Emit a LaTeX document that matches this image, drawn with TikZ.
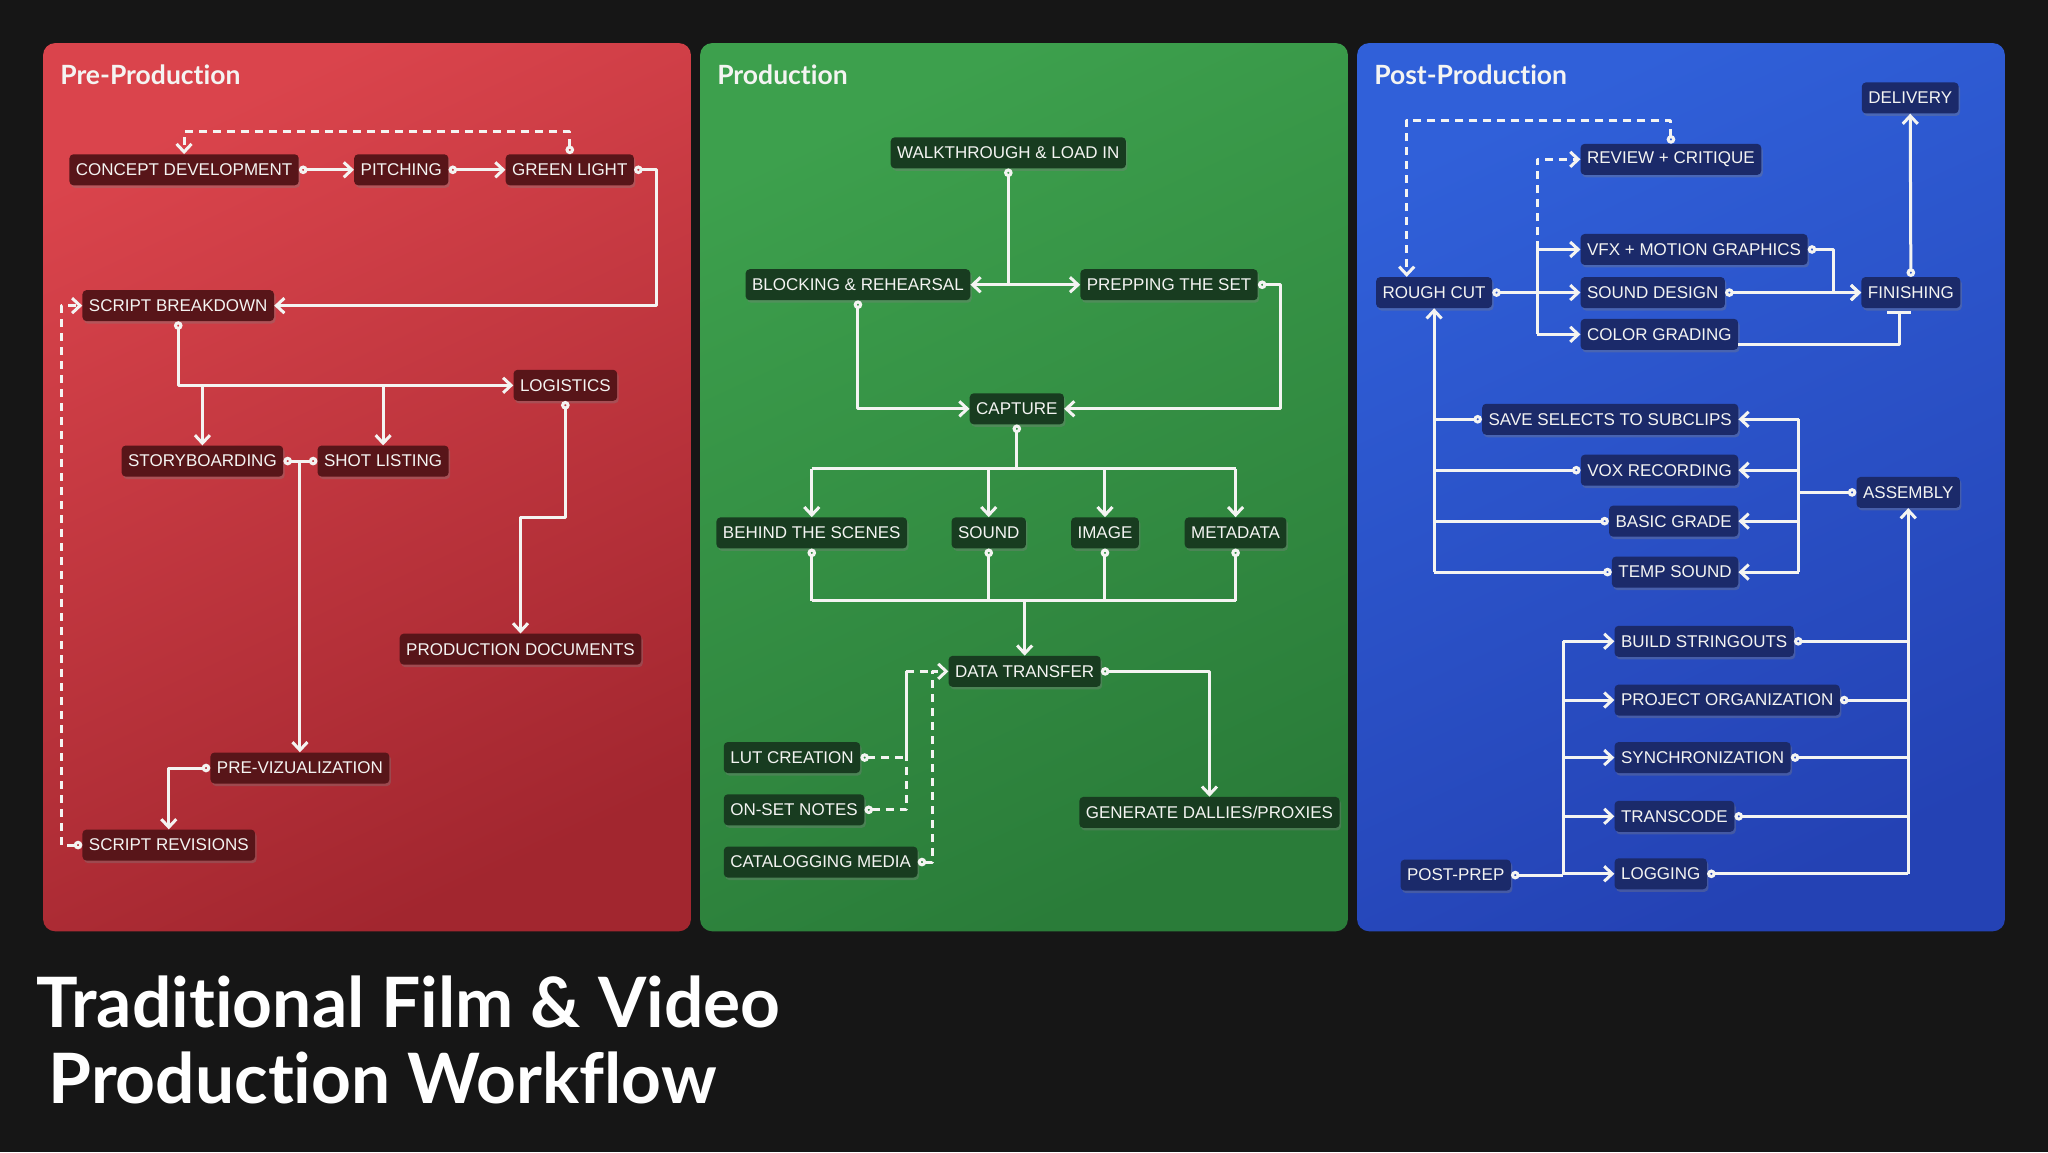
\documentclass[tikz,border=0pt]{standalone}
\usepackage{fontspec}
\setmainfont{Liberation Sans}
\newfontfamily\titlefont[Ligatures=CommonOff]{Lato}
\usetikzlibrary{arrows.meta,calc,shadows}
\definecolor{bgc}{HTML}{161616}
\definecolor{redtop}{HTML}{DA444C}
\definecolor{redbot}{HTML}{A2262F}
\definecolor{grntop}{HTML}{3DA04D}
\definecolor{grnbot}{HTML}{2A7C39}
\definecolor{blutop}{HTML}{3060D9}
\definecolor{blubot}{HTML}{2442B4}
\definecolor{rnode}{HTML}{581519}
\definecolor{gnode}{HTML}{183C20}
\definecolor{bnode}{HTML}{1B2A6A}
\definecolor{wc}{HTML}{F4F4F2}
\begin{document}
\begin{tikzpicture}[x=1.30612pt,y=-1.30612pt,
  box/.style={rounded corners=4pt, inner xsep=6.5pt, inner ysep=0pt, minimum height=31pt,
    text=wc, font=\fontsize{17}{19}\selectfont,
    drop shadow={opacity=0.35, shadow xshift=1.5pt, shadow yshift=-2.5pt}},
  rbox/.style={box, fill=rnode},
  gbox/.style={box, fill=gnode},
  bbox/.style={box, fill=bnode},
  ptitle/.style={anchor=west, inner sep=0pt, text=wc, font=\titlefont\bfseries\fontsize{26.5}{30}\selectfont},
  wire/.style={draw=wc, line width=3pt, line join=round},
  dsh/.style={dash pattern=on 8pt off 6pt},
  arr/.style={-{Straight Barb[length=8pt,width=15pt]}},
  sc/.style={{Circle[open,length=8.5pt,width=8.5pt]}-},
  sca/.style={{Circle[open,length=8.5pt,width=8.5pt]}-{Straight Barb[length=8pt,width=15pt]}},
  cc/.style={{Circle[open,length=8.5pt,width=8.5pt]}-{Circle[open,length=8.5pt,width=8.5pt]}},
]
\useasboundingbox (0,0) rectangle (1568,882);
\fill[bgc] (0,0) rectangle (1568,882);
% panels
\shade[rounded corners=12pt, top color=redtop, bottom color=redbot, shading angle=25] (33,33) rectangle (529,713);
\shade[rounded corners=12pt, top color=grntop, bottom color=grnbot, shading angle=25] (536,33) rectangle (1032,713);
\shade[rounded corners=12pt, top color=blutop, bottom color=blubot, shading angle=25] (1039,33) rectangle (1535,713);
\node[ptitle] (t1) at (46,57) {Pre-Production};
\node[ptitle] (t2) at (549,57) {Production};
\node[ptitle] (t3) at (1052,57) {Post-Production};

% ---------- Pre-production nodes
\node[rbox, anchor=west] (cd) at (53,130) {CONCEPT DEVELOPMENT};
\node[rbox, anchor=west] (pit) at (271,130) {PITCHING};
\node[rbox, anchor=west] (gl) at (387,130) {GREEN LIGHT};
\node[rbox, anchor=west] (sb) at (63,234) {SCRIPT BREAKDOWN};
\node[rbox, anchor=west] (log) at (393,295) {LOGISTICS};
\node[rbox, anchor=east] (sto) at (217,353) {STORYBOARDING};
\node[rbox, anchor=west] (shot) at (243,353) {SHOT LISTING};
\node[rbox] (pd) at (398.5,497) {PRODUCTION DOCUMENTS};
\node[rbox, anchor=west] (pv) at (161,588) {PRE-VIZUALIZATION};
\node[rbox, anchor=west] (sr) at (63,647) {SCRIPT REVISIONS};

% ---------- Production nodes
\node[gbox] (wt) at (772,117) {WALKTHROUGH \& LOAD IN};
\node[gbox, anchor=east] (blk) at (743,218) {BLOCKING \& REHEARSAL};
\node[gbox, anchor=west] (prep) at (827,218) {PREPPING THE SET};
\node[gbox] (cap) at (778.5,313) {CAPTURE};
\node[gbox] (bts) at (621.5,408) {BEHIND THE SCENES};
\node[gbox] (snd) at (757,408) {SOUND};
\node[gbox] (img) at (846,408) {IMAGE};
\node[gbox] (meta) at (946,408) {METADATA};
\node[gbox] (dt) at (784.5,514) {DATA TRANSFER};
\node[gbox, anchor=west] (lut) at (554,580) {LUT CREATION};
\node[gbox, anchor=west] (ons) at (554,620) {ON-SET NOTES};
\node[gbox, anchor=west] (cat) at (554,660) {CATALOGGING MEDIA};
\node[gbox] (gen) at (926,622) {GENERATE DALLIES/PROXIES};

% ---------- Post-production nodes
\node[bbox] (del) at (1462.5,75) {DELIVERY};
\node[bbox, anchor=west] (rev) at (1210,122) {REVIEW + CRITIQUE};
\node[bbox, anchor=west] (vfx) at (1210,191) {VFX + MOTION GRAPHICS};
\node[bbox] (rc) at (1098,224) {ROUGH CUT};
\node[bbox, anchor=west] (sd) at (1210,224) {SOUND DESIGN};
\node[bbox] (fin) at (1463,224) {FINISHING};
\node[bbox, anchor=west] (cg) at (1210,256) {COLOR GRADING};
\node[bbox, anchor=east] (ss) at (1331,321) {SAVE SELECTS TO SUBCLIPS};
\node[bbox, anchor=east] (vox) at (1331,360) {VOX RECORDING};
\node[bbox] (asm) at (1461,377) {ASSEMBLY};
\node[bbox, anchor=east] (bg) at (1331,399) {BASIC GRADE};
\node[bbox, anchor=east] (ts) at (1331,438) {TEMP SOUND};
\node[bbox, anchor=west] (bs) at (1236,491) {BUILD STRINGOUTS};
\node[bbox, anchor=west] (po) at (1236,536) {PROJECT ORGANIZATION};
\node[bbox, anchor=west] (syn) at (1236,580) {SYNCHRONIZATION};
\node[bbox, anchor=west] (tc) at (1236,625) {TRANSCODE};
\node[bbox, anchor=west] (lg) at (1236,669) {LOGGING};
\node[bbox] (pp) at (1114.5,670) {POST-PREP};

% ---------- Pre-production connectors
\draw[wire,sca] (cd.east) -- (pit.west);
\draw[wire,sca] (pit.east) -- (gl.west);
\draw[wire,sca] (gl.east) -- ++(17,0) |- (sb.east);
\draw[wire,dsh,sca] (gl.north) -- ++(0,-17) -| (cd.north);
\draw[wire,dsh,sca] (sr.west) -- ++(-16,0) |- (sb.west);
\draw[wire,sca] (sb.south) |- (log.west);
\draw[wire,arr] (sto.north |- log.west) -- (sto.north);
\draw[wire,arr] (shot.north |- log.west) -- (shot.north);
\draw[wire,cc] (sto.east) -- (shot.west);
\draw[wire,arr] (pv.north |- sto.east) -- (pv.north);
\draw[wire,sca] (log.south) -- ($(log.south)+(0,89)$) -| (pd.north);
\draw[wire,sca] (pv.west) -| (sr.north);

% ---------- Production connectors
\draw[wire,sca] (wt.south) |- (blk.east);
\draw[wire,arr] (wt.south |- prep.west) -- (prep.west);
\draw[wire,sca] (blk.south) |- (cap.west);
\draw[wire,sca] (prep.east) -- ++(17,0) |- (cap.east);
\coordinate (hA) at (0,359);
\draw[wire,sc] (cap.south) -- (cap.south |- hA);
\draw[wire] (bts.north |- hA) -- (meta.north |- hA);
\foreach \n in {bts,snd,img,meta} \draw[wire,arr] (\n.north |- hA) -- (\n.north);
\coordinate (hB) at (0,460);
\foreach \n in {bts,snd,img,meta} \draw[wire,sc] (\n.south) -- (\n.south |- hB);
\draw[wire] (bts.south |- hB) -- (meta.south |- hB);
\draw[wire,arr] (dt.north |- hB) -- (dt.north);
\draw[wire,sca] (dt.east) -| (gen.north);
\coordinate (dA) at (694,514);
\coordinate (dB) at (714,514);
\draw[wire,dsh,sc] (lut.east) -| (dA);
\draw[wire,dsh,sc] (ons.east) -| (dA);
\draw[wire,dsh] (dA) -- (dB);
\draw[wire,dsh,sca] (cat.east) -| (dB) -- (dt.west);

% ---------- Post-production connectors
\coordinate (vA) at (1197,0);
\draw[wire,sc] (pp.east) -- (vA |- pp.east);
\draw[wire] (vA |- bs.west) -- (vA |- pp.east);
\foreach \n in {bs,po,syn,tc,lg} \draw[wire,arr] (vA |- \n.west) -- (\n.west);
\foreach \n in {bs,po,syn,tc,lg} \draw[wire,sc] (\n.east) -- (asm.south |- \n.east);
\draw[wire,arr] (asm.south |- lg.east) -- (asm.south);
\coordinate (vB) at (1377,0);
\draw[wire,sc] (asm.west) -- (vB |- asm.west);
\draw[wire] (vB |- ss.east) -- (vB |- ts.east);
\foreach \n in {ss,vox,bg,ts} \draw[wire,arr] (vB |- \n.east) -- (\n.east);
\foreach \n in {ss,vox,bg,ts} \draw[wire,sc] (\n.west) -- (rc.south |- \n.west);
\draw[wire,arr] (rc.south |- ts.west) -- (rc.south);
\coordinate (vC) at (1177,0);
\draw[wire,sca] (rc.east) -- (sd.west);
\draw[wire] (vC |- vfx.west) -- (vC |- cg.west);
\draw[wire,dsh,arr] (vC |- vfx.west) -- (vC |- rev.west) -- (rev.west);
\draw[wire,arr] (vC |- vfx.west) -- (vfx.west);
\draw[wire,arr] (vC |- cg.west) -- (cg.west);
\draw[wire,dsh,sca] (rev.north) -- ++(0,-18) -| ($(rc.north)+(-21,0)$);
\draw[wire,sca] (vfx.east) -- ++(20,0) |- (fin.west);
\draw[wire,sca] (sd.east) -- (fin.west);
\draw[wire,-{Bar[width=24pt]}] ($(cg.east)+(0,8)$) -| ($(fin.south)+(-9,2)$);
\draw[wire,sca] (fin.north) -- (del.south);

% ---------- main title
\node[anchor=base west, inner sep=0pt, text=white, font=\titlefont\bfseries\fontsize{69.5}{80}\selectfont] (mt1) at (28,787) {Traditional Film \& Video};
\node[anchor=base west, inner sep=0pt, text=white, font=\titlefont\bfseries\fontsize{69.5}{80}\selectfont] (mt2) at (37,845) {Production Workflow};
\end{tikzpicture}
\end{document}
